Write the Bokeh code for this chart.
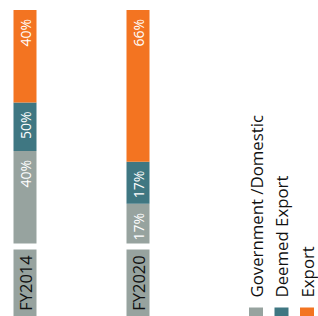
import math
from bokeh.plotting import figure
from bokeh.models import Range1d
from bokeh.core.properties import value
from bokeh.embed import file_html
from bokeh.resources import INLINE

# ---- data ----
categories = ["FY2014", "FY2020"]
series = ["Government /Domestic", "Deemed Export", "Export"]
government = [40, 17]
deemed = [21, 18]
export = [40, 65]
government_labels = ["40%", "17%"]
deemed_labels = ["50%", "17%"]
export_labels = ["40%", "66%"]
colors = ["#97a39f", "#3f7782", "#f37421"]

# ---- layout (pixels) ----
W, H = 318, 316
X_PX_PER_CAT = 113.0
X0_PX = 24.5
BAR_W_PX = 23.0
TOP_PX, BASE_PX = 9.5, 243.0
GAP_PX = 6.0
LEG_X0_PX, LEG_STEP_PX = 255.5, 25.5
LEG_SQ_TOP_PX, LEG_TXT_PX = 307.0, 297.0
FONT = value("Open Sans")

ppu = (BASE_PX - TOP_PX) / 100.0
x_start = -X0_PX / X_PX_PER_CAT
x_end = x_start + W / X_PX_PER_CAT
y_start = -(H - BASE_PX) / ppu
y_end = 100 + TOP_PX / ppu
bar_w = BAR_W_PX / X_PX_PER_CAT

p = figure(width=W, height=H, x_range=Range1d(x_start, x_end),
           y_range=Range1d(y_start, y_end), output_backend="svg",
           toolbar_location=None, min_border=0,
           x_axis_location=None, y_axis_location=None)
p.grid.visible = False
p.outline_line_color = None
p.background_fill_color = "white"

xs = list(range(len(categories)))
totals = [sum(t) for t in zip(government, deemed, export)]
def norm(arr):
    return [a / t * 100 for a, t in zip(arr, totals)]

seg_vals = [norm(government), norm(deemed), norm(export)]
label_lists = [government_labels, deemed_labels, export_labels]
bottoms = [0.0] * len(xs)
for vals, col, labels in zip(seg_vals, colors, label_lists):
    tops = [b + v for b, v in zip(bottoms, vals)]
    p.vbar(x=xs, bottom=bottoms, top=tops, width=bar_w, fill_color=col, line_color=None)
    p.text(x=xs, y=tops, text=labels, angle=math.pi / 2, text_align="right",
           text_baseline="middle", y_offset=9, text_color="white",
           text_font=FONT, text_font_size="14px")
    bottoms = tops

# category boxes
box_top = -GAP_PX / ppu
p.vbar(x=xs, bottom=y_start, top=box_top, width=bar_w, fill_color=colors[0], line_color=None)
p.text(x=xs, y=[(box_top + y_start) / 2] * len(xs), text=categories, angle=math.pi / 2,
       text_align="center", text_baseline="middle", text_color="#111111",
       text_font=FONT, text_font_size="16.5px")

# legend
lx = [x_start + (LEG_X0_PX + i * LEG_STEP_PX) / X_PX_PER_CAT for i in range(len(series))]
sq_center = (BASE_PX - (LEG_SQ_TOP_PX + 7)) / ppu
p.rect(x=lx, y=[sq_center] * len(lx), width=14, height=14, width_units="screen",
       height_units="screen", fill_color=colors, line_color=None)
p.text(x=lx, y=[(BASE_PX - LEG_TXT_PX) / ppu] * len(lx), text=series, angle=math.pi / 2,
       text_align="left", text_baseline="middle", text_color="#111111",
       text_font=FONT, text_font_size="16.8px")

open("out.html", "w").write(file_html(p, INLINE))
